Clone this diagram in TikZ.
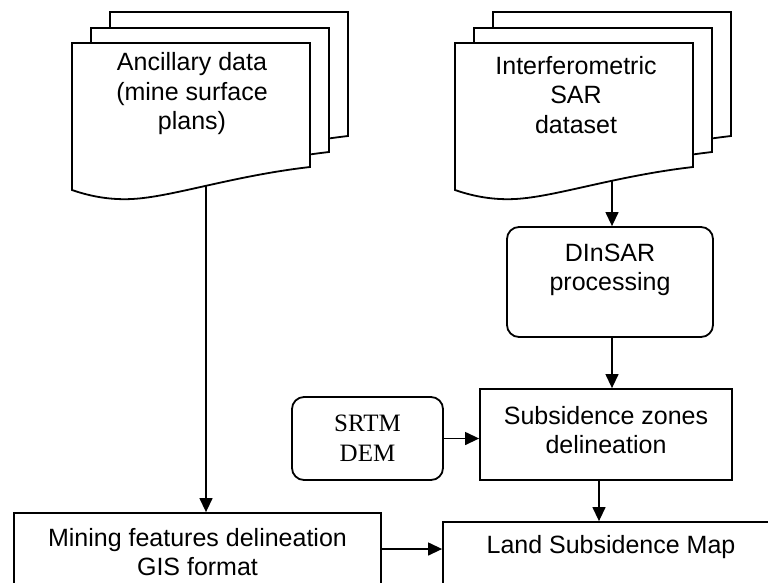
\documentclass[tikz,border=0pt]{standalone}
\usepackage{fontspec}
\setmainfont{Liberation Sans}
\newfontfamily\serifx{Liberation Serif}
\usetikzlibrary{arrows.meta,fit}
\tikzset{
  outl/.style={draw=black, line width=1.8pt, fill=white},
  sqbox/.style={outl, rectangle, inner sep=0pt},
  rbox/.style={outl, rectangle, rounded corners=12pt, inner sep=0pt},
  txt/.style={align=center, font=\fontsize{25}{29.5}\selectfont, inner sep=0pt},
  ar/.style={draw=black, line width=1.3pt, -{Triangle[width=13pt,length=14pt]}},
  docsheet/.style={draw=black, line width=1.8pt, fill=white}
}
\newcommand\docsheetpath{(0,0) -- (238,0) -- (238,124) .. controls (160,133) and (100,154) .. (60,156) .. controls (40,157) and (20,154) .. (0,147) -- cycle}
\begin{document}
\begin{tikzpicture}[x=1pt,y=-1pt]
\useasboundingbox (0,0) rectangle (768,582);
\clip (0,0) rectangle (768,582);
\fill[white] (0,0) rectangle (768,582);

% left document stack
\foreach \dx/\dy in {38/-31,19/-15,0/0}
  \filldraw[docsheet, shift={(72+\dx,43+\dy)}] \docsheetpath;
\node[txt] (anc) at (192,94) {Ancillary data\\(mine surface\\plans)};
\coordinate (ancout) at (206,185);

% right document stack
\foreach \dx/\dy in {38/-31,19/-15,0/0}
  \filldraw[docsheet, shift={(455+\dx,43+\dy)}] \docsheetpath;
\node[txt] (ifs) at (576,95) {Interferometric\\SAR\\dataset};
\coordinate (ifsout) at (612,181);

% boxes
\node[rbox, fit={(507,227) (713,337)}] (dinsar) {};
\node[txt] (dinsart) at (610,270) {DInSAR\\processing};

\node[rbox, fit={(292,397) (443,480)}] (srtm) {};
\node[txt, font=\serifx\fontsize{25}{29.5}\selectfont] (srtmt) at (367.5,438) {SRTM\\DEM};

\node[sqbox, fit={(480,389) (732,480)}] (subs) {};
\node[txt] (subst) at (606,430) {Subsidence zones\\delineation};

\node[sqbox, fit={(14,513) (381,610)}] (mining) {};
\node[txt] (miningt) at (197.5,552) {Mining features delineation\\GIS format};

\node[sqbox, fit={(443,522) (800,610)}] (land) {};
\node[txt] (landt) at (611,547) {Land Subsidence Map};

% connectors
\draw[ar] (ancout) -- (ancout |- mining.north);
\draw[ar] (ifsout) -- (ifsout |- dinsar.north);
\coordinate (dout) at (612,337);
\draw[ar] (dout) -- (dout |- subs.north);
\draw[ar] (srtm.east) -- (srtm.east -| subs.west);
\coordinate (sout) at (599,480);
\draw[ar] (sout) -- (sout |- land.north);
\coordinate (mout) at (381,549);
\draw[ar] (mout) -- (mout -| land.west);
\end{tikzpicture}
\end{document}
